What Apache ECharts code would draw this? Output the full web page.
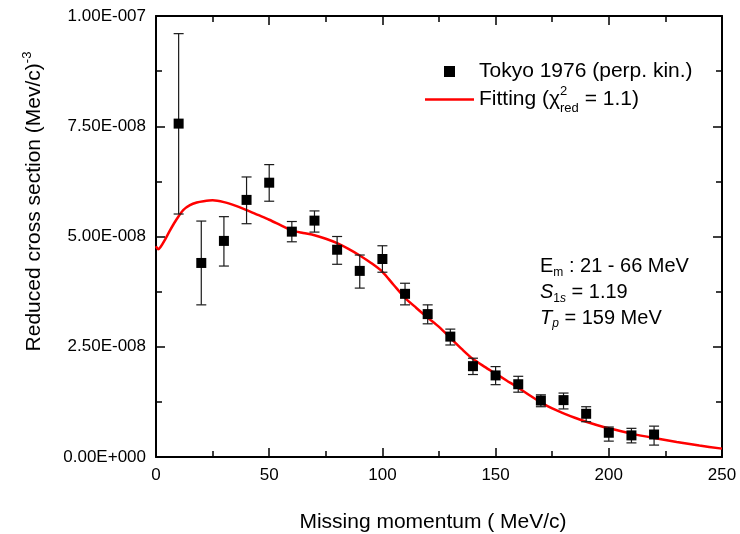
<!DOCTYPE html>
<html><head><meta charset="utf-8">
<script src="https://cdn.jsdelivr.net/npm/echarts@6/dist/echarts.min.js"></script>
<style>html,body{margin:0;padding:0;background:#fff}#c{width:740px;height:534px}</style>
</head><body><div id="c"></div>
<script>
// ---- data (y values in units of 1E-8 (MeV/c)^-3) ----
const xPts    = [10, 20, 30, 40, 50, 60, 70, 80, 90, 100, 110, 120, 130, 140, 150, 160, 170, 180, 190, 200, 210, 220];
const yPts    = [7.56, 4.40, 4.90, 5.83, 6.22, 5.11, 5.36, 4.70, 4.22, 4.49, 3.70, 3.24, 2.73, 2.06, 1.85, 1.65, 1.28, 1.29, 0.98, 0.55, 0.49, 0.51];
const errLow  = [5.51, 3.45, 4.33, 5.29, 5.80, 4.88, 5.10, 4.37, 3.83, 4.19, 3.45, 3.02, 2.54, 1.87, 1.64, 1.47, 1.14, 1.09, 0.80, 0.36, 0.32, 0.27];
const errHigh = [9.60, 5.35, 5.45, 6.35, 6.63, 5.34, 5.58, 5.00, 4.58, 4.79, 3.94, 3.45, 2.90, 2.24, 2.05, 1.83, 1.41, 1.45, 1.14, 0.68, 0.65, 0.70];

const fitX = [0, 1, 2, 4, 6, 8, 10, 12, 15, 18, 21, 25, 30, 35, 40, 45, 50, 55, 60, 65, 70, 75, 80, 85, 90, 95, 100, 105, 110, 115, 120, 125, 130, 135, 140, 145, 150, 155, 160, 165, 170, 175, 180, 185, 190, 195, 200, 210, 220, 230, 240, 250];
const fitY = [4.78, 4.71, 4.76, 4.93, 5.12, 5.30, 5.46, 5.60, 5.71, 5.77, 5.80, 5.82, 5.78, 5.70, 5.60, 5.49, 5.38, 5.26, 5.14, 5.08, 5.03, 4.95, 4.85, 4.72, 4.57, 4.40, 4.20, 3.90, 3.61, 3.38, 3.16, 2.95, 2.70, 2.45, 2.22, 2.05, 1.89, 1.73, 1.57, 1.40, 1.24, 1.10, 0.99, 0.89, 0.80, 0.72, 0.65, 0.53, 0.43, 0.34, 0.26, 0.19];

const xTickLabels = ['0', '50', '100', '150', '200', '250'];
const yTickLabels = ['0.00E+000', '2.50E-008', '5.00E-008', '7.50E-008', '1.00E-007'];
const seriesNames = ['Tokyo 1976 (perp. kin.)', 'Fitting'];
const fitLabelParts = ['Fitting (\u03c7', '2', 'red', ' = 1.1)'];
const xAxisTitle = 'Missing momentum ( MeV/c)';
const yAxisTitle = 'Reduced cross section (Mev/c)';
const yAxisTitleSup = '-3';
const annotE = ['E', 'm', ' : 21 - 66 MeV'];
const annotS = ['S', '1', 's', ' = 1.19'];
const annotT = ['T', 'p', ' = 159 MeV'];

// ---- chart ----
const FONT = "'Liberation Sans', Arial, sans-serif";
const X_INT = 50, Y_INT = 2.5;
const chart = echarts.init(document.getElementById('c'), null, {renderer: 'canvas'});

const axisCommon = {
  axisLine: {show: true, onZero: false, lineStyle: {color: '#000', width: 2}},
  axisTick: {show: true, inside: true, length: 9, lineStyle: {color: '#000', width: 1.5}},
  minorTick: {show: true, splitNumber: 2, length: 6, lineStyle: {color: '#000', width: 1.5}},
  splitLine: {show: false}
};

const scatterData = xPts.map((x, i) => [x, yPts[i]]);
const errData = xPts.map((x, i) => [x, errLow[i], errHigh[i]]);
const fitData = fitX.map((x, i) => [x, fitY[i]]);

const txt = (size, extra) => Object.assign({fontFamily: FONT, fontSize: size, color: '#000'}, extra || {});

function annotRich() {
  return {
    n: txt(20, {lineHeight: 22, verticalAlign: 'top'}),
    i: txt(20, {lineHeight: 22, verticalAlign: 'top', fontStyle: 'italic'}),
    s: txt(12, {lineHeight: 12, verticalAlign: 'bottom', padding: [18, 0, 0, 0]}),
    si: txt(12, {lineHeight: 12, verticalAlign: 'bottom', padding: [18, 0, 0, 0], fontStyle: 'italic'})
  };
}

const option = {
  backgroundColor: '#fff',
  animation: false,
  grid: {left: 156, right: 18, top: 16, bottom: 77, containLabel: false, outerBoundsMode: 'none'},
  xAxis: [
    Object.assign({
      type: 'value', min: 0, max: 250, interval: X_INT, position: 'bottom',
      axisLabel: {show: true, margin: 10, fontFamily: FONT, fontSize: 17, color: '#000',
        formatter: v => xTickLabels[Math.round(v / X_INT)]},
      name: xAxisTitle, nameLocation: 'middle', nameGap: 55,
      nameTextStyle: {fontFamily: FONT, fontSize: 21, color: '#000', padding: [0, 12, 0, 0]}
    }, axisCommon),
    Object.assign({
      type: 'value', min: 0, max: 250, interval: X_INT, position: 'top',
      axisLabel: {show: false}
    }, axisCommon)
  ],
  yAxis: [
    Object.assign({
      type: 'value', min: 0, max: 10, interval: Y_INT, position: 'left',
      axisLabel: {show: true, margin: 10, fontFamily: FONT, fontSize: 17, color: '#000',
        formatter: v => yTickLabels[Math.round(v / Y_INT)]},
      name: '{a|' + yAxisTitle + '}{s|' + yAxisTitleSup + '}',
      nameLocation: 'middle', nameRotate: 90, nameGap: 111,
      nameTextStyle: {
        fontFamily: FONT, fontSize: 21, color: '#000', padding: [0, 0, 0, 70],
        rich: {
          a: txt(21, {lineHeight: 24, verticalAlign: 'bottom'}),
          s: txt(13, {lineHeight: 13, verticalAlign: 'top'})
        }
      }
    }, axisCommon),
    Object.assign({
      type: 'value', min: 0, max: 10, interval: Y_INT, position: 'right',
      axisLabel: {show: false}
    }, axisCommon)
  ],
  legend: {
    orient: 'vertical', left: 425, top: 61, padding: 0, itemGap: 2.5,
    itemWidth: 49, itemHeight: 11, symbolKeepAspect: true,
    selectedMode: false,
    data: [
      {name: seriesNames[0], icon: 'path://M0,0H10V10H0Z'},
      {name: seriesNames[1], icon: 'path://M0,0H49V2.5H0Z'}
    ],
    formatter: name => name === seriesNames[1]
      ? '{a|' + fitLabelParts[0] + '}{p|' + fitLabelParts[1] + '}{b|' + fitLabelParts[2] + '}{a|' + fitLabelParts[3] + '}'
      : '{t|' + name + '}',
    textStyle: {
      fontFamily: FONT, fontSize: 21, color: '#000',
      rich: {
        t: txt(21, {lineHeight: 20}),
        a: txt(21, {lineHeight: 30}),
        p: txt(13, {lineHeight: 10, verticalAlign: 'top', width: 0}),
        b: txt(13, {lineHeight: 10, verticalAlign: 'bottom'})
      }
    }
  },
  graphic: [
    {type: 'text', left: 540, top: 248.5, z: 10,
      style: {text: '{n|' + annotE[0] + '}{s|' + annotE[1] + '}{n|' + annotE[2] + '}', rich: annotRich()}},
    {type: 'text', left: 540, top: 274.5, z: 10,
      style: {text: '{i|' + annotS[0] + '}{s|' + annotS[1] + '}{si|' + annotS[2] + '}{n|' + annotS[3] + '}', rich: annotRich()}},
    {type: 'text', left: 540, top: 300, z: 10,
      style: {text: '{i|' + annotT[0] + '}{si|' + annotT[1] + '}{n|' + annotT[2] + '}', rich: annotRich()}}
  ],
  series: [
    {
      name: seriesNames[1], type: 'line', data: fitData, xAxisIndex: 0, yAxisIndex: 0,
      showSymbol: false, symbol: 'none', smooth: 0.3, z: 2,
      lineStyle: {color: '#ff0000', width: 2.5},
      itemStyle: {color: '#ff0000'}
    },
    {
      name: seriesNames[0] + ' err', type: 'custom', data: errData, xAxisIndex: 0, yAxisIndex: 0, z: 3,
      encode: {x: 0, y: [1, 2]},
      renderItem: (params, api) => {
        const lo = api.coord([api.value(0), api.value(1)]);
        const hi = api.coord([api.value(0), api.value(2)]);
        const hw = 5;
        const st = {stroke: '#1a1a1a', lineWidth: 1.2, fill: null};
        return {type: 'group', children: [
          {type: 'line', shape: {x1: lo[0], y1: lo[1], x2: hi[0], y2: hi[1]}, style: st},
          {type: 'line', shape: {x1: lo[0] - hw, y1: lo[1], x2: lo[0] + hw, y2: lo[1]}, style: st},
          {type: 'line', shape: {x1: hi[0] - hw, y1: hi[1], x2: hi[0] + hw, y2: hi[1]}, style: st}
        ]};
      }
    },
    {
      name: seriesNames[0], type: 'scatter', data: scatterData, xAxisIndex: 0, yAxisIndex: 0, z: 4,
      symbol: 'rect', symbolSize: 10,
      itemStyle: {color: '#000', opacity: 1}
    }
  ]
};
chart.setOption(option);
</script>
</body></html>
